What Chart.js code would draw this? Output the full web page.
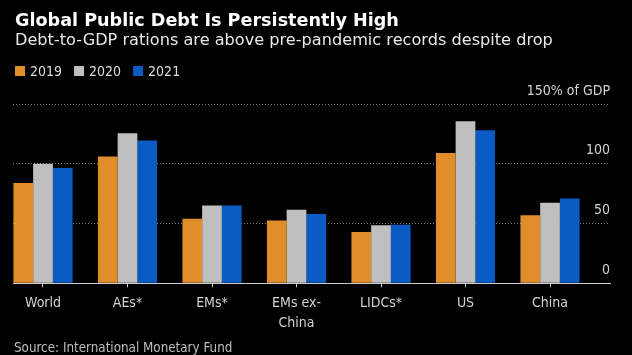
<!DOCTYPE html>
<html><head><meta charset="utf-8">
<script src="https://cdn.jsdelivr.net/npm/chart.js@4"></script>
<style>html,body{margin:0;padding:0;background:#000;}#wrap{width:632px;height:355px;}</style>
</head><body><div id="wrap"><canvas id="c" width="632" height="355"></canvas></div>
<script>
const categories = ['World', 'AEs*', 'EMs*', 'EMs ex-China', 'LIDCs*', 'US', 'China'];
const tickLabels = [['World'], ['AEs*'], ['EMs*'], ['EMs ex-', 'China'], ['LIDCs*'], ['US'], ['China']];
const seriesNames = ['2019', '2020', '2021'];
const values2019 = [84, 106, 54, 52.5, 43, 109, 57];
const values2020 = [100, 125.5, 65, 61.5, 48.5, 135.5, 67.5];
const values2021 = [96.5, 119.5, 65, 58, 49, 128, 71];
const yTickValues = [0, 50, 100, 150];
const yTickLabels = ['0', '50', '100', '150% of GDP'];
const titleText = 'Global Public Debt Is Persistently High';
const subtitleText = 'Debt-to-GDP rations are above pre-pandemic records despite drop';
const sourceText = 'Source: International Monetary Fund';

const FAM = '"DejaVu Sans Condensed", "DejaVu Sans", sans-serif';
const FAM_WIDE = '"DejaVu Sans", sans-serif';
const colors = ['#E08D2B', '#BFBFBF', '#0A5BC4'];
const allValues = [values2019, values2020, values2021];

const header = {
  id: 'header',
  beforeDraw(chart) {
    const ctx = chart.ctx;
    ctx.save();
    ctx.fillStyle = '#000';
    ctx.fillRect(0, 0, chart.width, chart.height);
    ctx.restore();
  },
  afterDraw(chart) {
    const ctx = chart.ctx;
    ctx.save();
    ctx.textAlign = 'left';
    ctx.textBaseline = 'alphabetic';
    ctx.fillStyle = '#ffffff';
    ctx.font = 'bold 17.6px ' + FAM_WIDE;
    ctx.fillText(titleText, 15, 26);
    ctx.fillStyle = '#e8e8e8';
    ctx.font = '16.15px ' + FAM_WIDE;
    ctx.fillText(subtitleText, 15, 45);
    ctx.font = '14px ' + FAM;
    let x = 15;
    chart.data.datasets.forEach(ds => {
      ctx.fillStyle = ds.backgroundColor;
      ctx.fillRect(x, 66, 10, 10);
      ctx.fillStyle = '#dcdcdc';
      ctx.fillText(ds.label, x + 15, 75.5);
      x += 15 + ctx.measureText(ds.label).width + 12;
    });
    ctx.fillStyle = '#bdbdbd';
    ctx.font = '13.3px ' + FAM;
    ctx.fillText(sourceText, 14, 352);
    ctx.restore();
  }
};

new Chart(document.getElementById('c'), {
  type: 'bar',
  data: {
    datasets: seriesNames.map((name, k) => ({
      label: name,
      data: allValues[k].map((v, i) => ({ x: i, y: v })),
      backgroundColor: colors[k],
      borderWidth: 0
    }))
  },
  options: {
    responsive: false,
    animation: false,
    devicePixelRatio: 1,
    layout: { padding: { top: 104, right: 22, left: 13, bottom: 15.6 } },
    plugins: { legend: { display: false }, tooltip: { enabled: false }, title: { display: false } },
    datasets: { bar: { categoryPercentage: 0.7, barPercentage: 1 } },
    scales: {
      x: {
        type: 'linear',
        offset: false,
        min: -0.355,
        max: 6.71,
        afterBuildTicks: s => { s.ticks = categories.map((_, i) => ({ value: i })); },
        grid: { display: true, offset: false, drawOnChartArea: false, drawTicks: true, tickLength: 4, color: '#cfcfcf' },
        border: { display: true, color: '#cfcfcf', width: 1 },
        ticks: {
          color: '#d2d2d2',
          font: { family: FAM, size: 14, lineHeight: 1.36 },
          padding: 7,
          autoSkip: false,
          maxRotation: 0,
          callback: v => tickLabels[Math.round(v)]
        }
      },
      y: {
        position: 'right',
        min: 0,
        max: 150,
        afterBuildTicks: s => { s.ticks = yTickValues.map(v => ({ value: v })); },
        grid: {
          drawTicks: false,
          color: c => (c.tick && c.tick.value === 0) ? 'rgba(0,0,0,0)' : '#808080',
          lineWidth: 1
        },
        border: { display: false, dash: [1, 2] },
        ticks: {
          mirror: true,
          padding: 0,
          labelOffset: -13,
          color: '#d2d2d2',
          font: { family: FAM, size: 14 },
          callback: (v, i) => yTickLabels[yTickValues.indexOf(v)]
        }
      }
    }
  },
  plugins: [header]
});
</script>
</body></html>
